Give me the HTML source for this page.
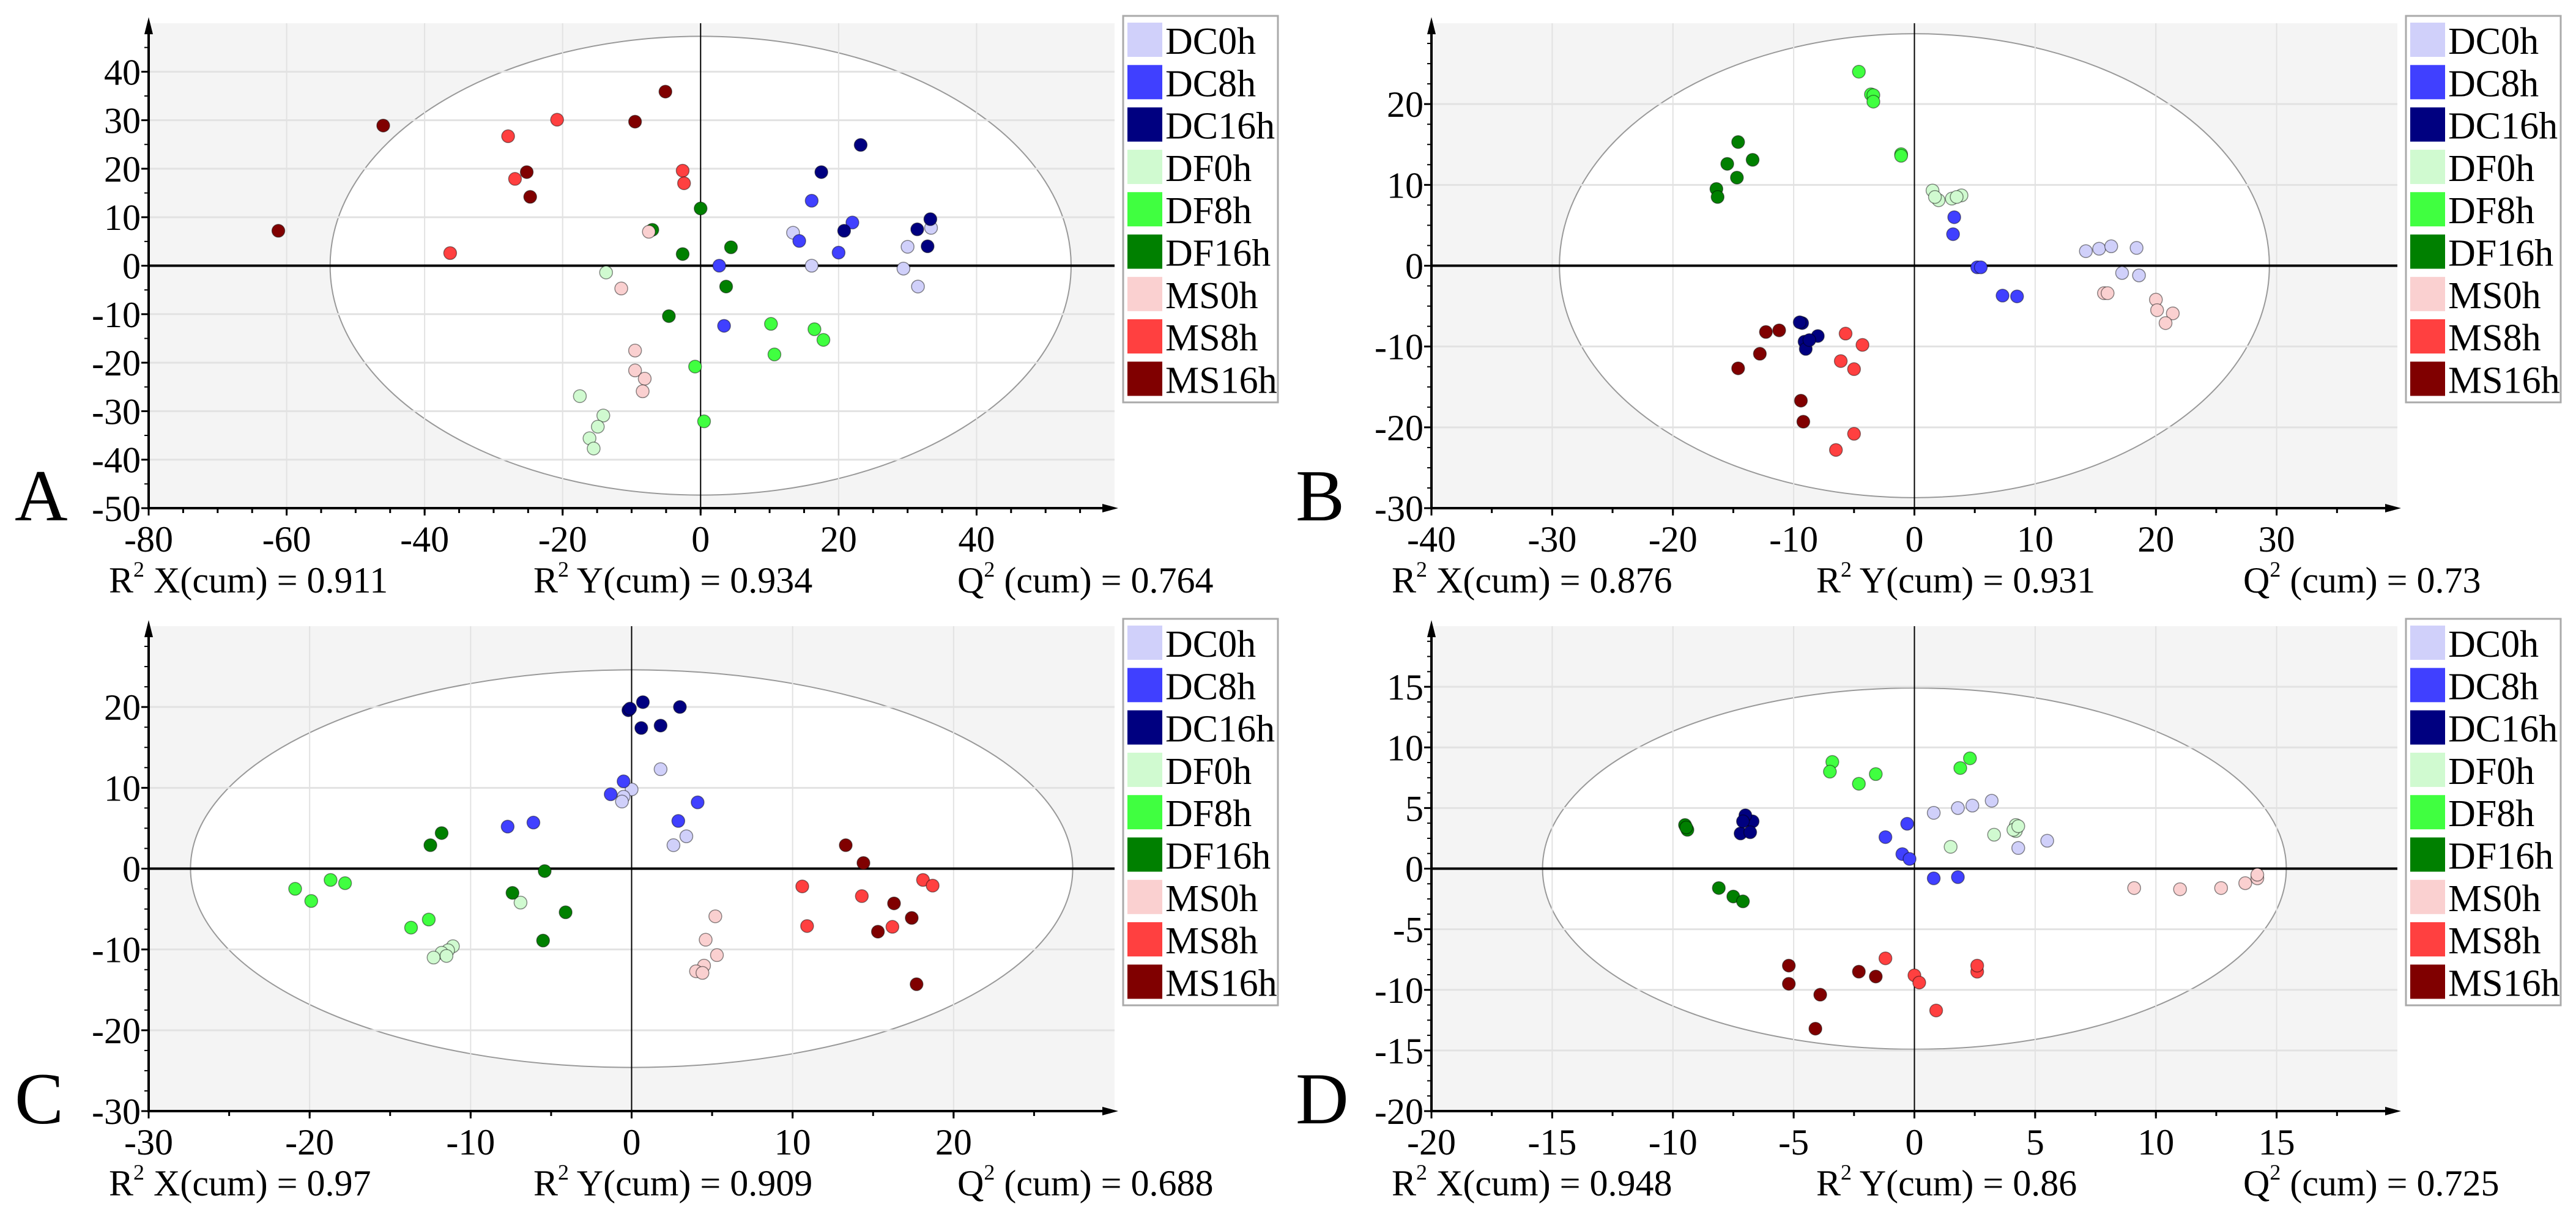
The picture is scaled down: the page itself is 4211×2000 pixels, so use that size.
<!DOCTYPE html>
<html><head><meta charset="utf-8"><style>
html,body{margin:0;padding:0;background:#fff}
svg{display:block}
svg text{font-family:"Liberation Serif","Times New Roman",serif;fill:#000}
</style></head>
<body>
<svg id="fig" xmlns="http://www.w3.org/2000/svg" width="4211" height="2000" viewBox="0 0 4211 2000" font-family="Liberation Serif, serif"></svg>
<script>
// ---- data ----
const groups = ["DC0h","DC8h","DC16h","DF0h","DF8h","DF16h","MS0h","MS8h","MS16h"];
const groupColors = ["#d0d0fa","#4040ff","#000080","#d0fad0","#40ff40","#008000","#fad0d0","#ff4040","#800000"];
const panelLetters = ["A","B","C","D"];
const r2x = ["0.911","0.876","0.97","0.948"];
const r2y = ["0.934","0.931","0.909","0.86"];
const q2 = ["0.764","0.73","0.688","0.725"];
const xTicksA = [-80,-60,-40,-20,0,20,40];
const yTicksA = [-50,-40,-30,-20,-10,0,10,20,30,40];
const xTicksB = [-40,-30,-20,-10,0,10,20,30];
const yTicksB = [-30,-20,-10,0,10,20];
const xTicksC = [-30,-20,-10,0,10,20];
const yTicksC = [-30,-20,-10,0,10,20];
const xTicksD = [-20,-15,-10,-5,0,5,10,15];
const yTicksD = [-20,-15,-10,-5,0,5,10,15];
const scoresA = [
 [[13.4,6.8],[30.0,3.9],[16.1,0],[29.4,-0.6],[31.5,-4.3],[33.4,7.8]],
 [[16.1,13.4],[22.0,8.9],[14.3,5.1],[20.0,2.7],[2.7,0],[3.4,-12.4]],
 [[23.2,24.9],[17.5,19.3],[20.8,7.2],[31.4,7.5],[33.3,9.6],[32.9,4.0]],
 [[-13.7,-1.4],[-17.5,-26.9],[-14.1,-30.9],[-14.9,-33.2],[-16.1,-35.6],[-15.5,-37.7]],
 [[10.2,-12.0],[16.5,-13.1],[17.8,-15.3],[10.7,-18.3],[-0.8,-20.8],[0.5,-32.1]],
 [[0,11.8],[4.4,3.8],[-2.6,2.4],[-7.0,7.4],[3.7,-4.3],[-4.6,-10.4]],
 [[-7.5,7.0],[-11.5,-4.7],[-9.5,-17.5],[-9.5,-21.6],[-8.1,-23.3],[-8.4,-25.9]],
 [[-20.8,30.1],[-27.9,26.7],[-26.9,17.9],[-2.6,19.6],[-2.4,17.0],[-36.3,2.6]],
 [[-5.1,35.9],[-9.5,29.7],[-46.0,28.9],[-25.2,19.3],[-24.7,14.2],[-61.2,7.2]]
];
const scoresB = [
 [[14.2,1.8],[15.3,2.1],[16.3,2.4],[18.4,2.2],[17.2,-0.9],[18.6,-1.2]],
 [[3.3,6.0],[3.2,3.9],[5.2,-0.2],[5.5,-0.2],[7.3,-3.7],[8.5,-3.8]],
 [[-9.3,-7.1],[-9.1,-9.4],[-8.0,-8.7],[-9.0,-10.3],[-8.7,-9.2],[-9.5,-7.0]],
 [[1.5,9.3],[2.0,8.1],[3.1,8.3],[3.9,8.7],[1.7,8.5],[3.5,8.5]],
 [[-4.6,24.0],[-3.6,21.2],[-3.4,21.1],[-3.4,20.3],[-1.1,13.8],[-1.1,13.6]],
 [[-14.6,15.3],[-15.5,12.6],[-13.4,13.1],[-14.7,10.9],[-16.4,9.5],[-16.3,8.5]],
 [[15.7,-3.4],[16.0,-3.4],[20.0,-4.2],[20.1,-5.5],[21.4,-5.9],[20.8,-7.1]],
 [[-5.7,-8.4],[-4.3,-9.8],[-6.1,-11.8],[-5.0,-12.8],[-5.0,-20.8],[-6.5,-22.8]],
 [[-12.3,-8.2],[-11.2,-8.0],[-12.8,-10.9],[-14.6,-12.7],[-9.4,-16.7],[-9.2,-19.3]]
];
const scoresC = [
 [[1.8,12.3],[0,9.8],[-0.5,8.9],[-0.6,8.3],[3.4,4.0],[2.6,2.9]],
 [[-0.5,10.8],[-1.3,9.2],[4.1,8.2],[2.9,5.9],[-6.1,5.7],[-7.7,5.2]],
 [[0.7,20.6],[-0.2,19.6],[3.0,20.0],[0.6,17.4],[1.8,17.7],[-0.1,19.8]],
 [[-6.9,-4.2],[-11.1,-9.6],[-11.4,-10.1],[-11.8,-10.4],[-11.5,-10.8],[-12.3,-11.0]],
 [[-20.9,-2.5],[-18.7,-1.4],[-17.8,-1.8],[-19.9,-4.0],[-12.6,-6.3],[-13.7,-7.3]],
 [[-11.8,4.4],[-12.5,2.9],[-5.4,-0.3],[-7.4,-3.0],[-4.1,-5.4],[-5.5,-8.9]],
 [[5.2,-5.9],[4.6,-8.8],[5.3,-10.7],[4.5,-12.0],[4.0,-12.7],[4.4,-12.9]],
 [[10.6,-2.2],[10.9,-7.1],[14.3,-3.4],[16.2,-7.2],[18.1,-1.4],[18.7,-2.1]],
 [[13.3,2.9],[14.4,0.7],[16.3,-4.3],[17.4,-6.1],[15.3,-7.8],[17.7,-14.3]]
];
const scoresD = [
 [[0.8,4.6],[1.8,5.0],[2.4,5.2],[3.2,5.6],[4.3,1.7],[5.5,2.3]],
 [[-0.3,3.7],[-1.2,2.6],[-0.5,1.2],[-0.2,0.8],[0.8,-0.8],[1.8,-0.7]],
 [[-7.0,4.0],[-6.7,3.9],[-7.2,2.9],[-6.8,3.0],[-7.0,4.4],[-7.1,3.9]],
 [[1.5,1.8],[3.3,2.8],[4.2,3.1],[4.2,3.6],[4.1,3.2],[4.3,3.5]],
 [[-3.4,8.8],[-3.5,8.0],[-2.3,7.0],[-1.6,7.8],[1.9,8.3],[2.3,9.1]],
 [[-9.5,3.6],[-9.4,3.2],[-8.1,-1.6],[-7.5,-2.3],[-7.1,-2.7],[-9.45,3.4]],
 [[9.1,-1.6],[11.0,-1.7],[12.7,-1.6],[13.7,-1.2],[14.2,-0.8],[14.2,-0.5]],
 [[0.0,-8.8],[0.2,-9.4],[0.9,-11.7],[-1.2,-7.4],[2.6,-8.5],[2.6,-8.0]],
 [[-5.2,-8.0],[-5.2,-9.5],[-3.9,-10.4],[-4.1,-13.2],[-2.3,-8.5],[-1.6,-8.9]]
];
const ellipseA = [53.7,47.3];
const ellipseB = [29.4,28.7];
const ellipseC = [27.4,24.6];
const ellipseD = [15.4,14.9];

// ---- layout ----
const NS = "http://www.w3.org/2000/svg";
const svg = document.getElementById("fig");
const FONT = '"Liberation Serif", serif';
function mk(tag, attrs, parent){
  const e = document.createElementNS(NS, tag);
  for (const k in attrs) e.setAttribute(k, attrs[k]);
  if (tag === "text") e.setAttribute("font-family", FONT);
  (parent||svg).appendChild(e);
  return e;
}
const panels = [
 {ox:0, oy:0, x0:-80, x1:60, y0:-50, y1:50, xt:xTicksA, yt:yTicksA, xm:5, ym:5, sc:scoresA, el:ellipseA},
 {ox:2097, oy:0, x0:-40, x1:40, y0:-30, y1:30, xt:xTicksB, yt:yTicksB, xm:5, ym:2.5, sc:scoresB, el:ellipseB},
 {ox:0, oy:986, x0:-30, x1:30, y0:-30, y1:30, xt:xTicksC, yt:yTicksC, xm:5, ym:2.5, sc:scoresC, el:ellipseC},
 {ox:2097, oy:986, x0:-20, x1:20, y0:-20, y1:20, xt:xTicksD, yt:yTicksD, xm:2.5, ym:1.25, sc:scoresD, el:ellipseD}
];
panels.forEach((p, pi) => {
  const L = p.ox + 243, R = p.ox + 1822, T = p.oy + 38, B = p.oy + 831;
  const sx = v => L + (v - p.x0) / (p.x1 - p.x0) * (R - L);
  const sy = v => B - (v - p.y0) / (p.y1 - p.y0) * (B - T);
  const g = mk("g", {});
  
  
  mk("rect", {x:L, y:T, width:R-L, height:B-T, fill:"#f4f4f4"}, g);
  const ell = mk("ellipse", {cx:sx(0), cy:sy(0), rx:sx(p.el[0])-sx(0), ry:sy(0)-sy(p.el[1]), fill:"#fff", stroke:"#999", "stroke-width":2}, g);
  
  
  p.xt.forEach(v => { if (v!==0 && v!==p.x0) mk("line", {x1:sx(v), x2:sx(v), y1:T, y2:B, stroke:"#e2e2e2", "stroke-width":2}, g); });
  p.yt.forEach(v => { if (v!==0 && v!==p.y0) mk("line", {x1:L, x2:R, y1:sy(v), y2:sy(v), stroke:"#e2e2e2", "stroke-width":3}, g); });
  mk("line", {x1:sx(0), x2:sx(0), y1:T, y2:B, stroke:"#000", "stroke-width":2}, g);
  mk("line", {x1:L, x2:R, y1:sy(0), y2:sy(0), stroke:"#000", "stroke-width":4}, g);
  p.sc.forEach((pts, gi) => {
    pts.forEach(pt => {
      const c = mk("circle", {cx:sx(pt[0]), cy:sy(pt[1]), r:10.5, fill:groupColors[gi], stroke:"rgba(0,0,0,0.45)", "stroke-width":1.5}, g);
      
      
    });
  });
  mk("line", {x1:L, x2:L, y1:B+2, y2:T+4, stroke:"#000", "stroke-width":4}, g);
  mk("polygon", {points:`${L-7},${T+18} ${L+7},${T+18} ${L},${T-10}`, fill:"#000"}, g);
  mk("line", {x1:L-2, x2:R-6, y1:B, y2:B, stroke:"#000", "stroke-width":4}, g);
  mk("polygon", {points:`${R-20},${B-7} ${R-20},${B+7} ${R+6},${B}`, fill:"#000"}, g);
  for (let v = p.x0; v <= p.x1 - p.xm*0.5; v += p.xm) mk("line", {x1:sx(v), x2:sx(v), y1:B, y2:B+8, stroke:"#000", "stroke-width":3}, g);
  for (let v = p.y0; v <= p.y1 - p.ym*0.5; v += p.ym) mk("line", {x1:L-7, x2:L, y1:sy(v), y2:sy(v), stroke:"#000", "stroke-width":2}, g);
  p.xt.forEach(v => {
    mk("line", {x1:sx(v), x2:sx(v), y1:B, y2:B+12, stroke:"#000", "stroke-width":3}, g);
    const t = mk("text", {x:sx(v), y:B+71, "font-size":60, "text-anchor":"middle"}, g);
    t.textContent = String(v);
    
    
  });
  p.yt.forEach(v => {
    mk("line", {x1:L-12, x2:L, y1:sy(v), y2:sy(v), stroke:"#000", "stroke-width":3}, g);
    const t = mk("text", {x:L-13, y:sy(v)+21, "font-size":60, "text-anchor":"end"}, g);
    t.textContent = String(v);
    
    
  });
  const lt = mk("text", {x:p.ox + (pi%2===0 ? 24 : 21), y:p.oy + 851, "font-size":120}, g);
  lt.textContent = panelLetters[pi];
  
  
  const statsX = [p.ox + 178, p.ox + 872, p.ox + (pi%2===0 ? 1565 : 1570)];
  const statsPre = ["R", "R", "Q"];
  const statsMid = [" X(cum) = ", " Y(cum) = ", " (cum) = "];
  const statsVal = [r2x[pi], r2y[pi], q2[pi]];
  const statsNames = ["r2x-cum-label","r2y-cum-label","q2-cum-label"];
  for (let k = 0; k < 3; k++) {
    const t = mk("text", {x:statsX[k], y:B+138, "font-size":60}, g);
    
    
    t.appendChild(document.createTextNode(statsPre[k]));
    const sup = mk("tspan", {"font-size":36, dy:-26}, t);
    sup.textContent = "2";
    const rest = mk("tspan", {dy:26}, t);
    rest.textContent = statsMid[k] + statsVal[k];
  }
  const lx = p.ox + 1836, ly = p.oy + 26;
  const lg = mk("g", {}, g);
  
  
  mk("rect", {x:lx, y:ly, width:253, height:632, fill:"#fff", stroke:"#aaa", "stroke-width":3}, lg);
  groups.forEach((name, gi) => {
    const eg = mk("g", {}, lg);
    
    
    const yy = ly + 11 + gi * 69.3;
    mk("rect", {x:lx+7, y:yy, width:57, height:56, fill:groupColors[gi]}, eg);
    const t = mk("text", {x:lx+69, y:yy+51, "font-size":62}, eg);
    t.textContent = name;
  });
});
</script>
</body></html>
